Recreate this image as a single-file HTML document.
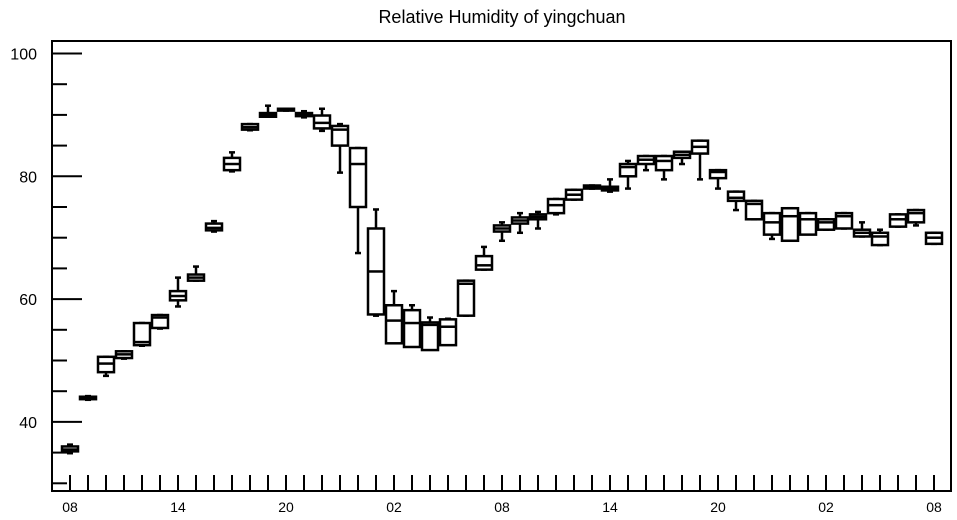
<!DOCTYPE html>
<html><head><meta charset="utf-8"><style>
body{margin:0;background:#fff;}
svg{display:block;font-family:"Liberation Sans",sans-serif;}
</style></head><body>
<svg id="chart" width="957" height="520" viewBox="0 0 957 520">
<text x="502" y="23" font-size="18" text-anchor="middle">Relative Humidity of yingchuan</text>
<g id="axes"></g>
<g id="boxes"></g>
</svg>
<script>
const q1s   =[35.2,43.7,48.1,50.4,52.5,55.3,59.8,63.0,71.2,81.0,87.6,89.7,90.7,89.8,87.8,85.0,75.0,57.5,52.8,52.2,51.7,52.5,57.3,64.8,71.0,72.3,73.0,74.0,76.2,78.0,77.7,80.0,82.0,81.0,83.0,83.7,79.7,76.0,73.0,70.5,69.5,70.5,71.3,71.5,70.2,68.8,71.8,72.5,69.0];
const meds  =[35.5,43.9,49.5,51.0,53.0,57.0,60.5,63.5,71.6,82.0,88.0,90.0,90.9,90.1,88.7,87.6,82.0,64.5,56.5,56.1,55.8,55.5,62.5,65.5,71.5,72.8,73.4,75.3,77.0,78.3,78.0,81.5,82.7,82.5,83.5,84.8,80.7,76.5,75.5,72.5,73.5,73.0,72.5,73.5,70.8,70.2,73.0,74.0,70.0];
const q3s   =[36.0,44.1,50.6,51.5,56.1,57.4,61.3,64.0,72.3,83.0,88.5,90.3,91.0,90.3,89.9,88.2,84.6,71.5,59.0,58.2,56.2,56.7,63.0,67.0,72.0,73.3,73.8,76.3,77.8,78.5,78.3,82.0,83.3,83.3,84.0,85.8,81.0,77.5,76.0,74.0,74.8,74.0,73.0,74.0,71.3,70.8,73.8,74.5,70.8];
const lows  =[34.9,43.6,47.5,50.3,52.4,55.2,58.8,63.0,71.0,80.8,87.5,89.7,90.7,89.6,87.4,80.6,67.5,57.3,55.0,55.0,55.0,55.0,57.3,64.8,69.5,70.8,71.5,73.8,76.2,78.0,77.5,78.0,81.0,79.5,82.0,79.5,78.0,74.5,73.0,69.8,70.8,72.0,71.3,71.5,70.2,68.8,71.8,72.0,69.0];
const highs =[36.3,44.2,50.6,51.5,56.1,57.4,63.5,65.3,72.7,83.9,88.5,91.5,91.0,90.6,91.0,88.5,84.6,74.6,61.3,59.0,57.0,56.8,63.0,68.5,72.5,74.0,74.2,76.3,77.8,78.5,79.5,82.5,83.3,83.3,84.0,85.8,81.0,77.5,76.0,74.0,74.8,74.0,73.0,74.0,72.5,71.3,73.8,74.5,70.8];
const xLabels=["08","14","20","02","08","14","20","02","08"];
const yTicks=[40,60,80,100];

const NS="http://www.w3.org/2000/svg";
const L=52,R=951,T=41,B=491;
const yv=v=>53.5+(100-v)*6.14;
const xi=i=>70+18*i;
function mk(tag,attrs,parent){const e=document.createElementNS(NS,tag);for(const k in attrs)e.setAttribute(k,attrs[k]);parent.appendChild(e);return e;}
const axes=document.getElementById('axes');
const frame=mk('rect',{x:L,y:T,width:R-L,height:B-T,fill:'none',stroke:'#000','stroke-width':2},axes);


for(let v=30;v<=100;v+=5){
  const major=v%20===0;
  const t=mk('line',{x1:L,x2:L+(major?30:15),y1:yv(v),y2:yv(v),stroke:'#000','stroke-width':2},axes);
  
  
}
yTicks.forEach(v=>{
  const t=mk('text',{x:37,y:yv(v)+6,'font-size':16,'text-anchor':'end'},axes);
  t.textContent=v;
  
  
});
for(let i=0;i<q1s.length;i++){
  const t=mk('line',{x1:xi(i),x2:xi(i),y1:B,y2:B-16,stroke:'#000','stroke-width':2},axes);
  
  
}
xLabels.forEach((s,k)=>{
  const t=mk('text',{x:xi(k*6),y:512,'font-size':14,'text-anchor':'middle'},axes);
  t.textContent=s;
  
  
});
const boxes=document.getElementById('boxes');
for(let i=0;i<q1s.length;i++){
  const g=mk('g',{},boxes);
  
  
  const x=xi(i),w=16;
  const st={stroke:'#000','stroke-width':2.5,fill:'none'};
  mk('line',Object.assign({x1:x,x2:x,y1:yv(highs[i]),y2:yv(q3s[i])},st),g);
  mk('line',Object.assign({x1:x,x2:x,y1:yv(q1s[i]),y2:yv(lows[i])},st),g);
  mk('line',Object.assign({x1:x-3,x2:x+3,y1:yv(highs[i]),y2:yv(highs[i])},st),g);
  mk('line',Object.assign({x1:x-3,x2:x+3,y1:yv(lows[i]),y2:yv(lows[i])},st),g);
  mk('rect',Object.assign({x:x-w/2,y:yv(q3s[i]),width:w,height:Math.max(1,yv(q1s[i])-yv(q3s[i]))},st,{fill:'#fff'}),g);
  mk('line',Object.assign({x1:x-w/2,x2:x+w/2,y1:yv(meds[i]),y2:yv(meds[i])},st),g);
}
</script>
</body></html>
